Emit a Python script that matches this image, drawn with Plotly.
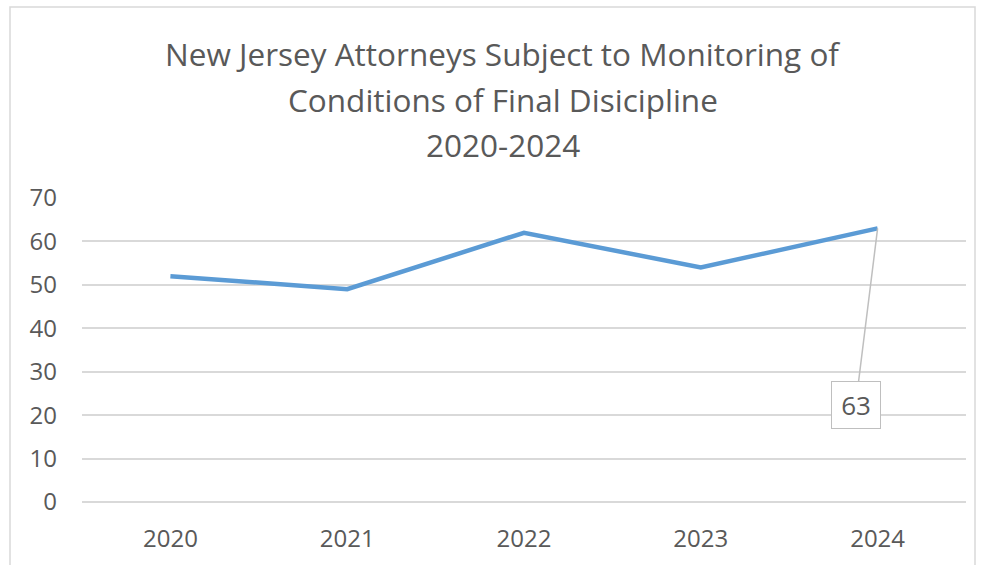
import plotly.graph_objects as go

years = ["2020", "2021", "2022", "2023", "2024"]
attorneys = [52, 49, 62, 54, 63]
y_ticks = [0, 10, 20, 30, 40, 50, 60, 70]
title_lines = [
    "New Jersey Attorneys Subject to Monitoring of",
    "Conditions of Final Disicipline",
    "2020-2024",
]

FONT = "Open Sans, Noto Sans, sans-serif"
TXT = "#595959"
GRID = "#d9d9d9"

W, H = 984, 565
L, R, T, B = 82, 18, 198, 63
pw, ph = W - L - R, H - T - B


def px_to_paper_x(px):
    return (px - L) / pw


def px_to_paper_y(py):
    return (H - B - py) / ph


fig = go.Figure()
fig.add_trace(go.Scatter(
    x=years, y=attorneys, mode="lines",
    line=dict(color="#5B9BD5", width=4.5),
    hoverinfo="x+y", showlegend=False,
))

# title lines
for line, yc in zip(title_lines, [53, 99, 144]):
    fig.add_annotation(
        text=line, xref="paper", yref="paper",
        x=px_to_paper_x(503), y=px_to_paper_y(yc),
        xanchor="center", yanchor="middle", showarrow=False,
        font=dict(family=FONT, size=31.5, color=TXT),
    )

# data label callout for last point
last = len(years) - 1
fig.add_annotation(
    x=last, y=attorneys[last], xref="x", yref="y",
    text=str(attorneys[last]), showarrow=True, arrowhead=0,
    arrowwidth=1.5, arrowcolor="#bfbfbf",
    ax=-22, ay=177,
    bordercolor="#bfbfbf", borderwidth=1, bgcolor="white",
    width=46, height=44, borderpad=1,
    font=dict(family=FONT, size=26, color=TXT),
)

# chart-area border
fig.add_shape(
    type="rect", xref="paper", yref="paper",
    x0=px_to_paper_x(10), x1=px_to_paper_x(975),
    y0=px_to_paper_y(575), y1=px_to_paper_y(7),
    line=dict(color=GRID, width=1.5), fillcolor="rgba(0,0,0,0)", layer="below",
)

fig.update_layout(
    width=W, height=H,
    margin=dict(l=L, r=R, t=T, b=B),
    paper_bgcolor="white", plot_bgcolor="white",
    font=dict(family=FONT, color=TXT),
    showlegend=False,
)
fig.update_xaxes(
    type="category", range=[-0.5, 4.5],
    showgrid=False, showline=False, zeroline=False,
    ticks="", tickfont=dict(family=FONT, size=24, color=TXT),
    ticklabelstandoff=20, fixedrange=True,
)
fig.update_yaxes(
    range=[0, 70], tickvals=y_ticks,
    showgrid=True, gridcolor=GRID, gridwidth=1.5,
    zeroline=True, zerolinecolor=GRID, zerolinewidth=1.5,
    showline=False, ticks="",
    tickfont=dict(family=FONT, size=24, color=TXT),
    ticklabelstandoff=24, fixedrange=True,
)

fig.write_html(
    "out.html",
    config={"displayModeBar": False},
    post_script="document.body.style.margin='0';document.body.style.overflow='hidden';",
)
